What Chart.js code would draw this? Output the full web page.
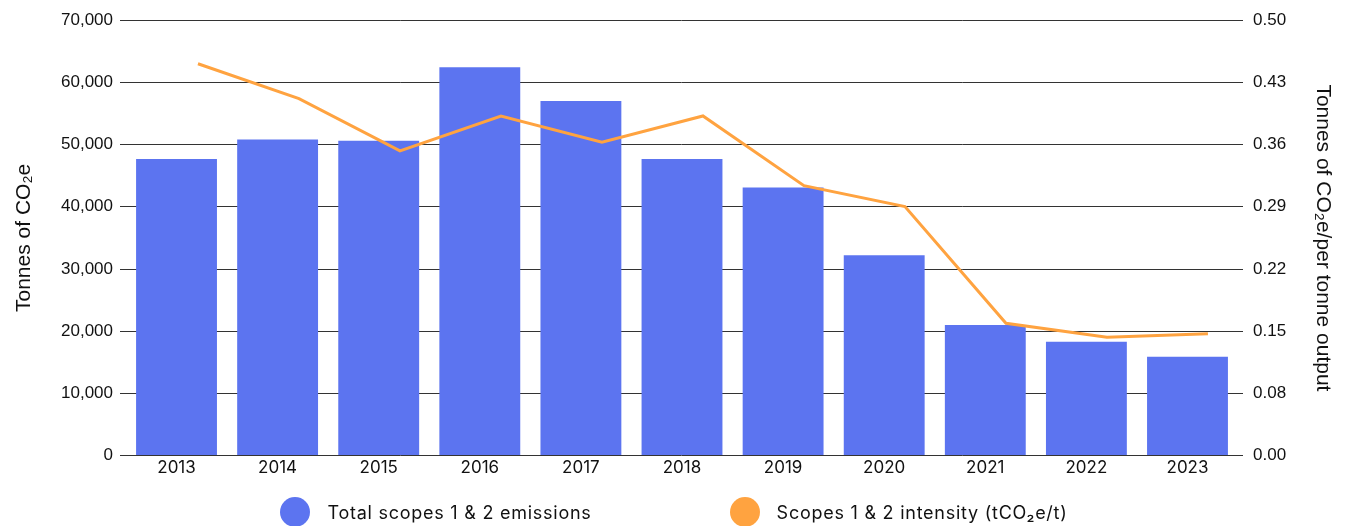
<!DOCTYPE html>
<html>
<head>
<meta charset="utf-8">
<script src="https://cdn.jsdelivr.net/npm/chart.js@4.4.1/dist/chart.umd.min.js"></script>
<style>
  html, body { margin: 0; padding: 0; background: #fff; }
  #wrap { position: relative; width: 1348px; height: 526px; }
  #leyenda { position: absolute; left: 0; top: 497px; width: 1348px; display: flex; justify-content: center; font-family: "Inter", sans-serif; font-size: 18px; letter-spacing: 0.75px; color: #111; }
  .item { display: flex; align-items: center; }
  .item + .item { margin-left: 138px; }
  .dot { width: 30px; height: 30px; border-radius: 50%; margin-right: 17px; }
</style>
</head>
<body>
<div id="wrap">
  <canvas id="myChart" width="1348" height="526"></canvas>
  <div id="leyenda"></div>
</div>
<script>
// Datos del grafico
const years = ["2013", "2014", "2015", "2016", "2017", "2018", "2019", "2020", "2021", "2022", "2023"];
const emisiones = [47700, 50800, 50600, 62450, 57000, 47700, 43100, 32200, 21000, 18300, 15900];
const intensidad = [0.45, 0.41, 0.35, 0.39, 0.36, 0.39, 0.31, 0.286, 0.152, 0.136, 0.14];
const nombreBarras = "Total scopes 1 & 2 emissions";
const nombreLinea = "Scopes 1 & 2 intensity (tCO₂e/t)";

const azul = "rgb(92, 116, 240)";
const naranja = "rgb(255, 163, 64)";

// Leyenda en html
const leyenda = document.querySelector("#leyenda");
leyenda.innerHTML = `
  <div class="item"><span class="dot" style="background:${azul}"></span>${nombreBarras}</div>
  <div class="item"><span class="dot" style="background:${naranja}"></span>${nombreLinea}</div>`;

const fuenteNum = { family: "'Liberation Sans', Arial, sans-serif", size: 17 };
const fuenteTitulo = { family: "'Liberation Sans', Arial, sans-serif", size: 21 };

const config = {
  type: "bar",
  data: {
    datasets: [
      {
        type: "line",
        label: nombreLinea,
        data: intensidad.map((v, i) => ({ x: i, y: v })),
        borderColor: naranja,
        borderWidth: 3,
        pointRadius: 0,
        tension: 0,
        xAxisID: "x2",
        yAxisID: "y2",
        order: 0
      },
      {
        label: nombreBarras,
        data: emisiones.map((v, i) => ({ x: i, y: v })),
        backgroundColor: azul,
        categoryPercentage: 0.8,
        barPercentage: 1.0,
        grouped: false,
        xAxisID: "x",
        yAxisID: "y",
        order: 1
      }
    ]
  },
  options: {
    responsive: false,
    animation: false,
    layout: { padding: { left: 12, right: 13, top: 0, bottom: 46 } },
    plugins: { legend: { display: false }, tooltip: { enabled: false } },
    scales: {
      // eje de años (lineal para dejar un margen a cada lado)
      x: {
        type: "linear",
        offset: false,
        min: -0.559,
        max: 10.549,
        grid: { display: false, drawTicks: false, offset: false },
        border: { display: false },
        afterBuildTicks: (s) => { s.ticks = years.map((y, i) => ({ value: i })); },
        ticks: {
          color: "#111",
          font: { family: "Inter, sans-serif", size: 17 },
          padding: 2,
          callback: (v) => years[v]
        }
      },
      // eje oculto para la linea (va corrida hacia la derecha)
      x2: {
        type: "linear",
        display: false,
        offset: false,
        grid: { offset: false },
        min: -0.772,
        max: 10.347
      },
      y: {
        position: "left",
        min: 0,
        max: 70000,
        ticks: {
          stepSize: 10000,
          color: "#111",
          font: fuenteNum,
          padding: 7,
          callback: (v) => v.toLocaleString("en-US")
        },
        grid: { color: "#333", lineWidth: 1, drawTicks: false },
        border: { display: false },
        title: { display: true, text: "Tonnes of CO₂e", color: "#111", font: fuenteTitulo, padding: 0 },
        afterFit: (s) => { s.width = 108; }
      },
      y2: {
        position: "right",
        min: 0,
        max: 0.5,
        ticks: {
          count: 8,
          color: "#111",
          font: fuenteNum,
          padding: 10,
          callback: (v) => (Math.ceil(v * 100 - 0.000001) / 100).toFixed(2)
        },
        grid: { display: false, drawTicks: false },
        border: { display: false },
        title: { display: true, text: "Tonnes of CO₂e/per tonne output", color: "#111", font: fuenteTitulo, padding: 0 },
        afterFit: (s) => { s.width = 92; }
      }
    }
  }
};

const myChart = document.getElementById("myChart");
new Chart(myChart, config);
</script>
</body>
</html>
